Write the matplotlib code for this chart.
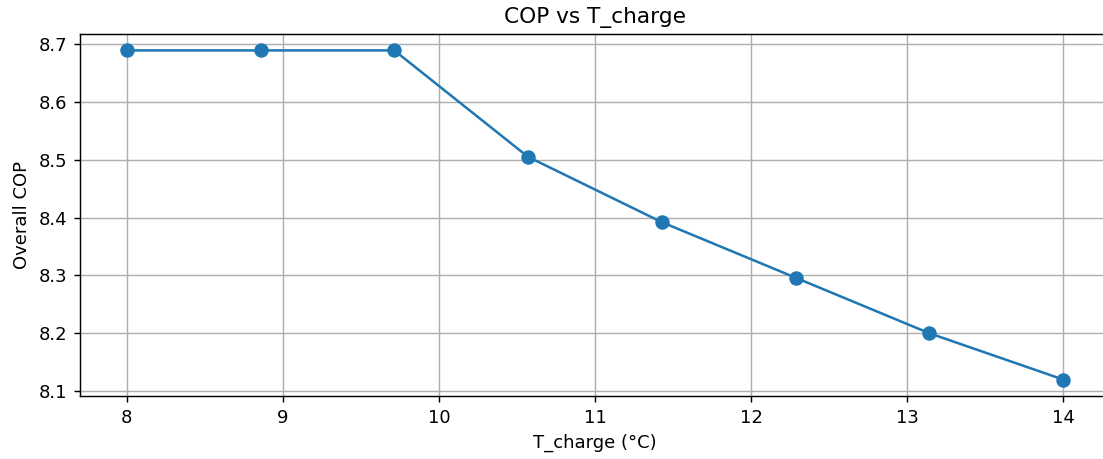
import matplotlib
matplotlib.use("Agg")
import matplotlib.pyplot as plt

t_charge = [8.0, 8.857, 9.714, 10.571, 11.429, 12.286, 13.143, 14.0]
cop = [8.689, 8.689, 8.689, 8.505, 8.392, 8.296, 8.200, 8.120]

DPI = 130
fig = plt.figure(figsize=(1103 / DPI, 459 / DPI), dpi=DPI)
ax = fig.add_axes([0.0725, 0.1373, 0.9338, 0.7887])
ax.plot(t_charge, cop, marker='o', markersize=7, linewidth=1.4, color='#1f77b4')
ax.set_title('COP vs T_charge')
ax.set_xlabel('T_charge (°C)')
ax.set_ylabel('Overall COP')
ax.grid(True)
fig.savefig('out.png', dpi=DPI)
